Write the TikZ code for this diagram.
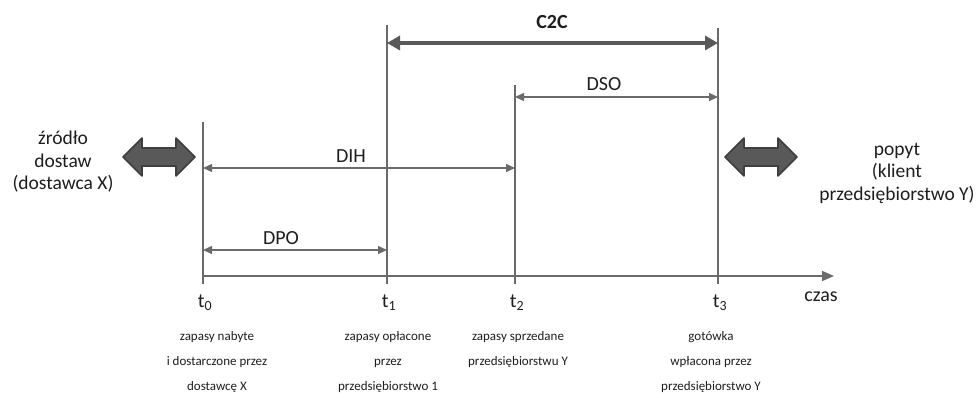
\documentclass[tikz,border=0pt]{standalone}
\usepackage{fontspec}
\setmainfont{Carlito}
\usetikzlibrary{arrows.meta}
\definecolor{linegray}{HTML}{6A6A6A}
\definecolor{arrowgray}{HTML}{595959}
\definecolor{edgegray}{HTML}{3F3F3F}
\definecolor{txt}{HTML}{1E1E1E}
\tikzset{
  timeline/.style={draw=linegray,line width=1.6pt},
  midarrow/.style={linegray,line width=1.4pt,{Triangle[length=9pt,width=8pt]}-{Triangle[length=9pt,width=8pt]}},
  c2carrow/.style={arrowgray,line width=4pt,{Triangle[length=13pt,width=14pt]}-{Triangle[length=13pt,width=14pt]}},
  flowarrow/.pic={
    \path[draw=edgegray,fill=arrowgray,line width=1.6pt,line join=round]
      (-36,0) -- (-17,-19) -- (-17,-9) -- (17,-9) -- (17,-19) -- (36,0)
      -- (17,19) -- (17,9) -- (-17,9) -- (-17,19) -- cycle;
  },
  side/.style={align=center,font=\fontsize{19.5}{22.5}\selectfont,text=txt},
  tlabel/.style={font=\fontsize{20}{24}\selectfont,text=txt},
  event/.style={align=center,font=\fontsize{13}{25}\selectfont,text=txt},
  period/.style={font=\fontsize{20}{24}\selectfont,text=txt},
}
\begin{document}
\begin{tikzpicture}[x=1pt,y=-1pt]
  \useasboundingbox (0,0) rectangle (978,396);
  \coordinate (t0top) at (203,122);
  \coordinate (t0bot) at (203,284);
  \coordinate (t1top) at (387,25);
  \coordinate (t1bot) at (387,284);
  \coordinate (t2top) at (515,85);
  \coordinate (t2bot) at (515,284);
  \coordinate (t3top) at (718,28);
  \coordinate (t3bot) at (718,284);
  \coordinate (axisstart) at (203,276);
  \coordinate (axisend) at (834,276);

  \coordinate (c2cL) at (387,43);
  \coordinate (c2cR) at (718,43);
  \coordinate (dsoL) at (515,97);
  \coordinate (dsoR) at (718,97);
  \coordinate (dihL) at (203,168);
  \coordinate (dihR) at (515,168);
  \coordinate (dpoL) at (203,250);
  \coordinate (dpoR) at (387,250);

  \node[period,font=\bfseries\fontsize{20}{24}\selectfont] (c2c) at (552,22) {C2C};
  \node[period] (dso) at (604,84) {DSO};
  \node[period] (dih) at (351,156) {DIH};
  \node[period] (dpo) at (281,238) {DPO};

  \node[side] (supplier) at (63,162) {źródło\\dostaw\\(dostawca X)};
  \node[side] (demand) at (897,173) {popyt\\(klient\\przedsiębiorstwo Y)};
  \pic at (159,157) {flowarrow};
  \pic at (761,157) {flowarrow};

  \node[tlabel] (t0) at (205,303) {t\textsubscript{0}};
  \node[tlabel] (t1) at (389,303) {t\textsubscript{1}};
  \node[tlabel] (t2) at (517,303) {t\textsubscript{2}};
  \node[tlabel] (t3) at (720,303) {t\textsubscript{3}};
  \node[tlabel] (czas) at (821,297) {czas};

  \node[event] (e0) at (217,362) {zapasy nabyte\\i dostarczone przez\\dostawcę X};
  \node[event] (e1) at (388,362) {zapasy opłacone\\przez\\przedsiębiorstwo 1};
  \node[event] (e2) at (518,349.5) {zapasy\ sprzedane\\przedsiębiorstwu Y};
  \node[event] (e3) at (711,362) {gotówka\\wpłacona przez\\przedsiębiorstwo Y};

  \begin{scope}[timeline]
    \draw (t0top) to (t0bot);
    \draw (t1top) to (t1bot);
    \draw (t2top) to (t2bot);
    \draw (t3top) to (t3bot);
    \draw[-{Triangle[length=12pt,width=10pt]}] (axisstart) to (axisend);
  \end{scope}
  \draw[c2carrow] (c2cL) to (c2cR);
  \draw[midarrow] (dsoL) to (dsoR);
  \draw[midarrow] (dihL) to (dihR);
  \draw[midarrow] (dpoL) to (dpoR);
\end{tikzpicture}
\end{document}
